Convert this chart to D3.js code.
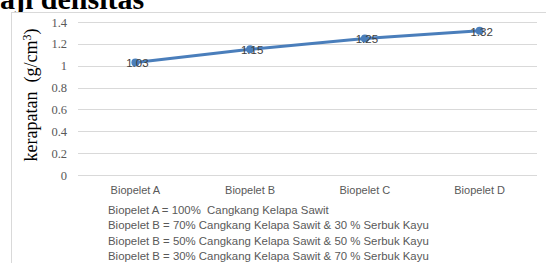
<!DOCTYPE html>
<html><head><meta charset="utf-8">
<script src="https://cdn.jsdelivr.net/npm/d3@7"></script>
<style>body{margin:0;background:#fff}svg{display:block}</style>
</head><body>
<script>
const categories = ["Biopelet A","Biopelet B","Biopelet C","Biopelet D"];
const values = [1.03, 1.15, 1.25, 1.32];
const valueLabels = ["1.03","1.15","1.25","1.32"];
const yTicks = [0,0.2,0.4,0.6,0.8,1,1.2,1.4];
const yTickLabels = ["0","0.2","0.4","0.6","0.8","1","1.2","1.4"];
const legendLines = [
 "Biopelet A = 100%  Cangkang Kelapa Sawit",
 "Biopelet B = 70% Cangkang Kelapa Sawit & 30 % Serbuk Kayu",
 "Biopelet B = 50% Cangkang Kelapa Sawit & 50 % Serbuk Kayu",
 "Biopelet B = 30% Cangkang Kelapa Sawit & 70 % Serbuk Kayu"
];

const W=546,H=263;
const svg=d3.select("body").append("svg").attr("width",W).attr("height",H);
svg.append("text").attr("x",0).attr("y",9).attr("font-family","Liberation Serif")
  .attr("font-weight","bold").attr("font-size",30).attr("fill","#000").text("aji densitas");
svg.append("rect").attr("x",11.5).attr("y",12.5).attr("width",W).attr("height",H)
  .attr("fill","#fff").attr("stroke","#d9d9d9");

const x=d3.scaleBand().domain(categories).range([78,537]);
const y=d3.scaleLinear().domain([0,1.4]).range([175,22]);

const g=svg.append("g");
g.selectAll("line.grid").data(yTicks).join("line").attr("class","grid")
  .attr("x1",78).attr("x2",537).attr("y1",d=>Math.round(y(d))+0.5).attr("y2",d=>Math.round(y(d))+0.5)
  .attr("stroke","#d9d9d9").attr("stroke-width",1);

const yAxis=d3.axisLeft(y).tickValues(yTicks).tickFormat((d,i)=>yTickLabels[i]).tickSize(0).tickPadding(0);
const ya=svg.append("g").attr("transform","translate(67,0)").call(yAxis);
ya.select(".domain").remove();
ya.selectAll("text").attr("font-family","Liberation Serif").attr("font-size",12.5).attr("fill","#595959");

const xAxis=d3.axisBottom(x).tickSize(0).tickPadding(0);
const xa=svg.append("g").attr("transform","translate(0,186)").call(xAxis);
xa.select(".domain").remove();
xa.selectAll("text").attr("font-family","Liberation Sans").attr("font-size",11).attr("fill","#595959");

svg.append("text").attr("transform","translate(37,95) rotate(-90)").attr("text-anchor","middle")
  .attr("font-family","Liberation Serif").attr("font-size",18).attr("fill","#000")
  .attr("xml:space","preserve").style("white-space","pre")
  .html('kerapatan  (g/cm<tspan dy="-6" font-size="12">3</tspan><tspan dy="6">)</tspan>');

const pts=categories.map((c,i)=>[x(c)+x.bandwidth()/2,y(values[i])]);
svg.append("path").attr("d",d3.line()(pts)).attr("fill","none").attr("stroke","#4a7ebb").attr("stroke-width",3);
svg.selectAll("circle.pt").data(pts).join("circle").attr("class","pt").attr("cx",d=>d[0]).attr("cy",d=>d[1]).attr("r",4)
  .attr("fill","#4a7ebb");
svg.selectAll("text.lbl").data(pts).join("text").attr("class","lbl").attr("x",d=>d[0]+2).attr("y",d=>d[1]+5)
  .attr("text-anchor","middle").attr("font-family","Liberation Sans").attr("font-size",11.5).attr("fill","#404040")
  .text((d,i)=>valueLabels[i]);

svg.selectAll("text.leg").data(legendLines).join("text").attr("class","leg").attr("x",108)
  .attr("y",(d,i)=>214+i*15.3).attr("font-family","Liberation Sans").attr("font-size",11.4).attr("fill","#595959")
  .attr("xml:space","preserve").style("white-space","pre").text(d=>d);
</script>
</body></html>
